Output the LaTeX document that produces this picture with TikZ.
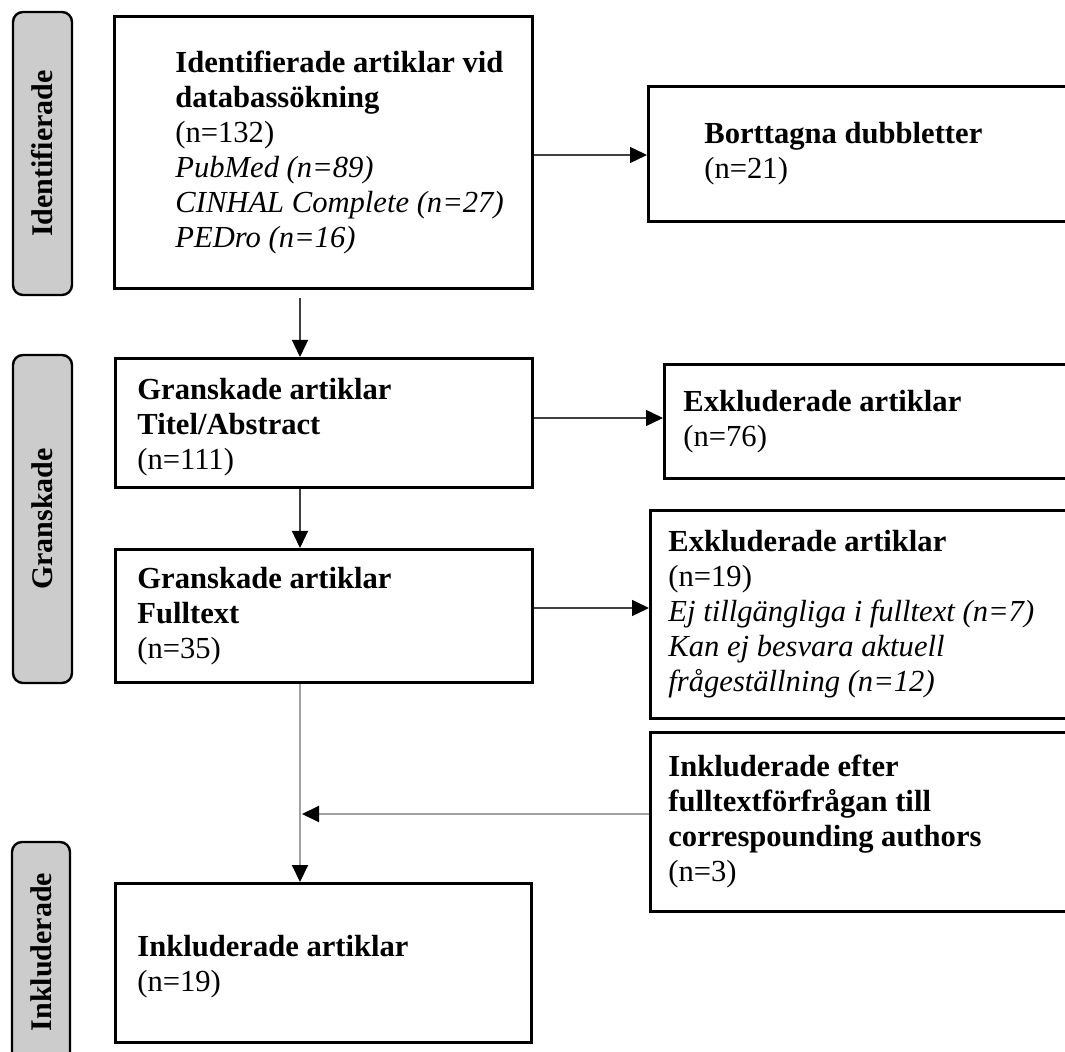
\documentclass[tikz,border=0pt]{standalone}
\usepackage{fontspec}
\setmainfont{Liberation Serif}
\usetikzlibrary{arrows.meta,calc}

\begin{document}
\begin{tikzpicture}[x=0.5pt, y=-0.5pt,
    box/.style={draw=black, line width=1.3pt, rectangle, anchor=north west, inner sep=0pt},
    sidebox/.style={draw=black, fill=labelFill, line width=1.2pt, rounded corners=5pt, rotate=90, inner sep=0pt, font=\fontsize{15}{17.5}\selectfont\bfseries},
    txt/.style={anchor=west, align=left, inner sep=0pt, font=\fontsize{15.3}{17.5}\selectfont},
    arrow/.style={draw=arrowDark, line width=0.7pt, -{Triangle[length=8.5pt, width=8pt, black]}},
    arrowgrey/.style={draw=lineGrey, line width=1pt, -{Triangle[length=8.5pt, width=8pt, black]}}]
    \definecolor{labelFill}{HTML}{CCCCCC}
    \definecolor{lineGrey}{HTML}{A0A0A0}
    \definecolor{arrowDark}{HTML}{404040}

    \useasboundingbox (0,0) rectangle (1065,1052);

    % Phase labels
    \node[sidebox, minimum width=141.5pt, minimum height=29.5pt] (phaseIdent) at (42.5,153.5) {Identifierade};
    \node[sidebox, minimum width=164pt, minimum height=29.5pt] (phaseGransk) at (42.5,519) {Granskade};
    \node[sidebox, minimum width=110pt, minimum height=29pt] (phaseInkl) at (41,952) {Inkluderade};

    % Boxes
    \node[box, minimum width=209pt, minimum height=136pt] (ident) at (113,15) {};
    \node[box, minimum width=214pt, minimum height=67.5pt] (dup) at (647,85) {};
    \node[box, minimum width=208.5pt, minimum height=64.5pt] (title) at (114,357) {};
    \node[box, minimum width=206pt, minimum height=57pt] (exclA) at (663,363) {};
    \node[box, minimum width=208.5pt, minimum height=66.5pt] (full) at (114,548) {};
    \node[box, minimum width=213pt, minimum height=104pt] (exclB) at (649,509) {};
    \node[box, minimum width=213pt, minimum height=89.5pt] (extra) at (649,731) {};
    \node[box, minimum width=208pt, minimum height=79.5pt] (incl) at (114,882) {};

    % Box texts
    \node[txt] (identTxt) at ([xshift=31pt]ident.west) {\textbf{Identifierade artiklar vid}\\\textbf{databassökning}\\(n=132)\\\textit{PubMed (n=89)}\\\textit{CINHAL Complete (n=27)}\\\textit{PEDro (n=16)}};
    \node[txt] (dupTxt) at ([xshift=28.5pt]dup.west) {\textbf{Borttagna dubbletter}\\(n=21)};
    \node[txt] (titleTxt) at ([xshift=11.5pt,yshift=-2pt]title.west) {\textbf{Granskade artiklar}\\\textbf{Titel/Abstract}\\(n=111)};
    \node[txt] (exclATxt) at ([xshift=10pt]exclA.west) {\textbf{Exkluderade artiklar}\\(n=76)};
    \node[txt] (fullTxt) at ([xshift=11.5pt]full.west) {\textbf{Granskade artiklar}\\\textbf{Fulltext}\\(n=35)};
    \node[txt] (exclBTxt) at ([xshift=9.5pt]exclB.west) {\textbf{Exkluderade artiklar}\\(n=19)\\\textit{Ej tillgängliga i fulltext (n=7)}\\\textit{Kan ej besvara aktuell}\\\textit{frågeställning (n=12)}};
    \node[txt] (extraTxt) at ([xshift=9.5pt]extra.west) {\textbf{Inkluderade efter}\\\textbf{fulltextförfrågan till}\\\textbf{correspounding authors}\\(n=3)};
    \node[txt] (inclTxt) at ([xshift=11.5pt,yshift=-2pt]incl.west) {\textbf{Inkluderade artiklar}\\(n=19)};

    % Main line of the flow
    \coordinate (spine) at (300,0);

    % Arrows
    \draw[arrow, shorten <=4pt] (ident.south -| spine) -- (title.north -| spine);
    \draw[arrow] (ident.east |- 0,155) -- (dup.west |- 0,155);
    \draw[arrow] (title.east |- 0,418) -- (exclA.west |- 0,418);
    \draw[arrow] (title.south -| spine) -- (full.north -| spine);
    \draw[arrow] (full.east |- 0,608) -- (exclB.west |- 0,608);
    \draw[arrowgrey] (full.south -| spine) -- (incl.north -| spine);
    \draw[arrowgrey] (extra.west |- 0,814) -- ([xshift=1pt]spine |- 0,814);

\end{tikzpicture}
\end{document}
